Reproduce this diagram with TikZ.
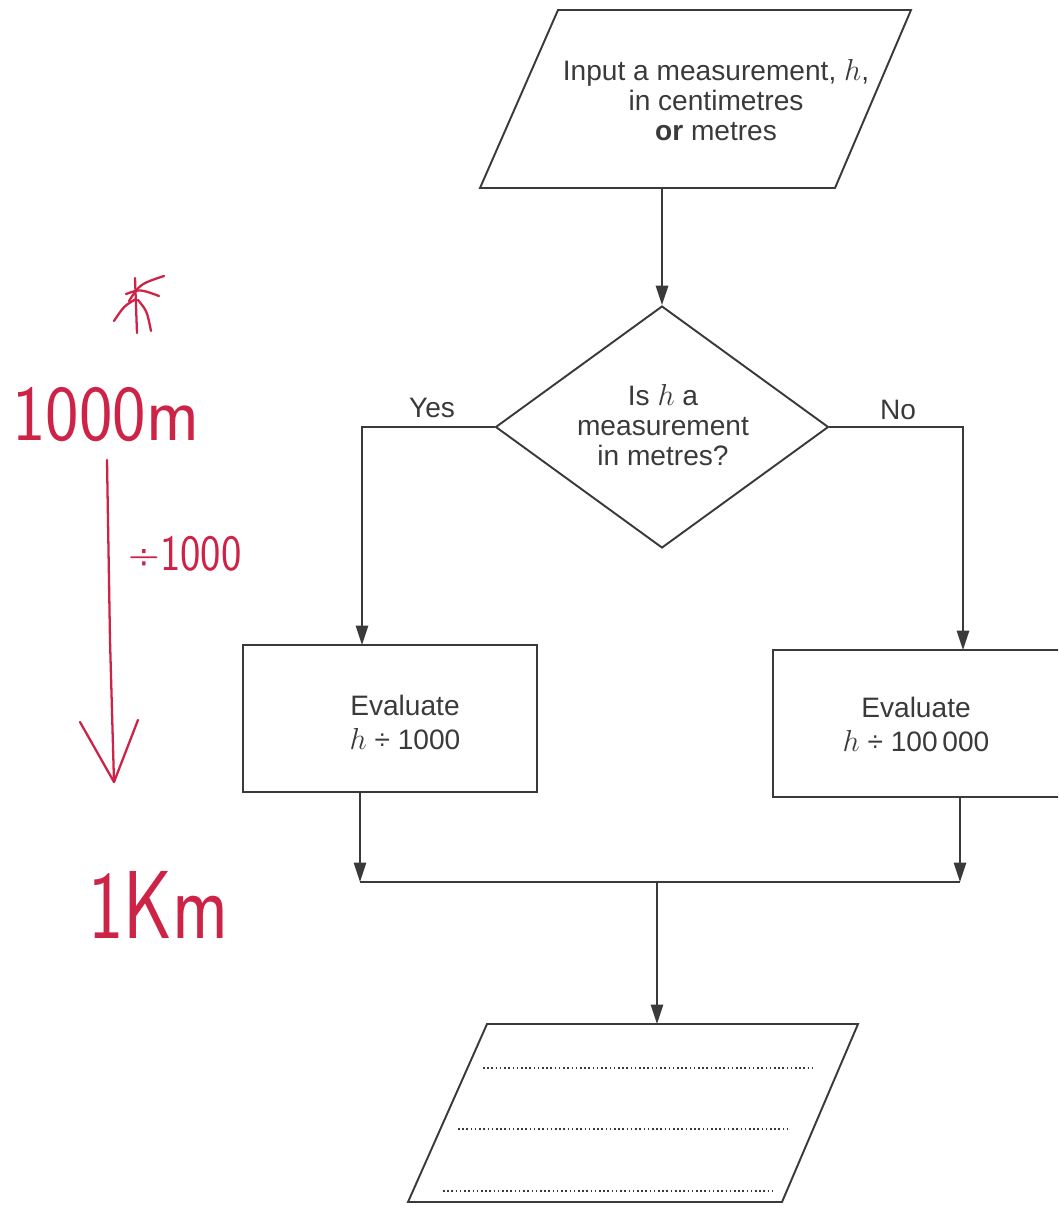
\documentclass[tikz,border=0pt]{standalone}
\usepackage{fontspec}
\usepackage{graphicx}
\setmainfont{Liberation Sans}
\usetikzlibrary{arrows.meta,shapes.geometric}
\definecolor{ink}{HTML}{3A3A3A}
\definecolor{pen}{RGB}{205,35,70}
\begin{document}
\begin{tikzpicture}[x=0.02cm,y=-0.02cm,
  line/.style={draw=ink,line width=1.1pt,line join=miter},
  arr/.style={draw=ink,line width=1.1pt,-{Triangle[length=11pt,width=7pt]}},
  txt/.style={font=\fontsize{16}{17}\selectfont,text=ink,align=center},
  boxtxt/.style={font=\fontsize{16}{19.3}\selectfont,text=ink,align=center},
  procbox/.style={line,minimum width=5.88cm,minimum height=2.94cm},
  dotline/.style={draw=ink,line width=1.2pt,dash pattern=on 0.9pt off 1.5pt},
  hand/.style={text=pen,inner sep=0pt},
  penline/.style={draw=pen,line width=1.3pt,line cap=round,line join=round}]
\useasboundingbox (0,0) rectangle (1058,1206);
\clip (0,0) rectangle (1058,1206);

% input parallelogram
\draw[line] (558,10) coordinate (inA) -- (911,10) coordinate (inB)
  -- (835,188) coordinate (inC) -- (480,188) coordinate (inD) -- cycle;
\node[txt] (intext) at (716,100) {Input a measurement, $h$,\\in centimetres\\\textbf{or} metres};
\coordinate (inOut) at (662,188);

% decision
\node[diamond,line,minimum width=6.66cm,minimum height=4.84cm,inner sep=0pt] (dec) at (662,427) {};
\node[txt] (dectext) at (663,425) {Is $h$ a\\measurement\\in metres?};
\draw[arr] (inOut) -- (dec.north);

\node[txt] (yes) at (432,408) {Yes};
\node[txt] (no) at (898,410) {No};

% process boxes
\node[procbox] (lbox) at (390,718.5) {};
\node[boxtxt] (ltext) at (405,722) {Evaluate\\$h$ ÷ 1000};
\node[procbox] (rbox) at (920,723.5) {};
\node[boxtxt] (rtext) at (916,724) {Evaluate\\$h$ ÷ 100\,000};

\coordinate (yesEnd) at (362,645);
\coordinate (noEnd) at (963,650);
\draw[arr] (dec.west) -| (yesEnd);
\draw[arr] (dec.east) -| (noEnd);

% merge
\coordinate (lOut) at (360,792);
\coordinate (rOut) at (960,797);
\coordinate (lJoin) at (360,882);
\coordinate (rJoin) at (960,882);
\coordinate (mJoin) at (657,882);
\coordinate (outTop) at (657,1024);
\draw[arr] (lOut) -- (lJoin);
\draw[arr] (rOut) -- (rJoin);
\draw[line] (lJoin) -- (rJoin);
\draw[arr] (mJoin) -- (outTop);

% output parallelogram
\draw[line] (487,1024) coordinate (oA) -- (858,1024) coordinate (oB)
  -- (782,1202) coordinate (oC) -- (408,1202) coordinate (oD) -- cycle;
\draw[dotline] (483,1068) coordinate (d1a) -- (815,1068) coordinate (d1b);
\draw[dotline] (458,1129) coordinate (d2a) -- (791,1129) coordinate (d2b);
\draw[dotline] (443,1191) coordinate (d3a) -- (775,1191) coordinate (d3b);

% handwritten annotations
\draw[penline] (135,278) -- (137,333);
\draw[penline] (129,301) .. controls (140,284) .. (164,276);
\draw[penline] (126,294) .. controls (140,289) .. (159,296);
\draw[penline] (136,299) .. controls (124,306) .. (114,321);
\draw[penline] (138,300) .. controls (147,311) .. (151,331);

\node[hand,anchor=base west] (km1000) at (12,440)
  {\sffamily\fontsize{45}{45}\selectfont\scalebox{0.9}[1]{1000m}};
\node[hand,anchor=base west] (div) at (128,570)
  {\sffamily\fontsize{29}{29}\selectfont\scalebox{0.85}[1]{÷1000}};
\node[hand,anchor=base west] (km1) at (88,938)
  {\sffamily\fontsize{55}{55}\selectfont\scalebox{0.78}[1]{1Km}};

\coordinate (penTop) at (107,460);
\coordinate (penTip) at (114,782);
\draw[penline] (penTop) -- (110,640) -- (penTip);
\draw[penline] (80,722) -- (penTip) -- (138,720);
\end{tikzpicture}
\end{document}
